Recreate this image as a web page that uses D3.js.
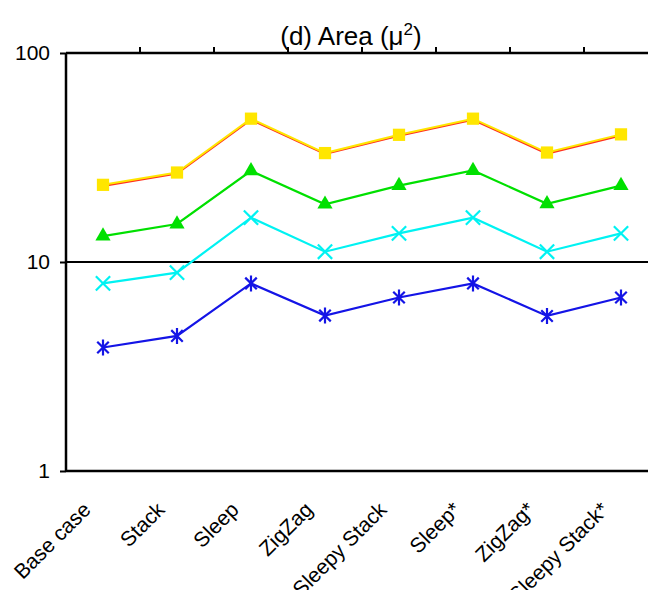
<!DOCTYPE html>
<html>
<head>
<meta charset="utf-8">
<script src="https://d3js.org/d3.v7.min.js"></script>
<style>
  body { margin: 0; background: white; }
  text { font-family: "Liberation Sans", Arial, sans-serif; fill: black; }
</style>
</head>
<body>
<svg id="chart" width="648" height="590"></svg>
<script>
// categories along the x axis
var configs = ["Base case", "Stack", "Sleep", "ZigZag", "Sleepy Stack", "Sleep*", "ZigZag*", "Sleepy Stack*"];

// area values (mu^2)
var redVals    = [23.1, 26.5, 47.9, 32.9, 40.2, 47.9, 33.0, 40.3];
var yellowVals = [23.4, 26.8, 48.5, 33.2, 40.6, 48.5, 33.4, 40.8];
var greenVals  = [13.3, 15.2, 27.3, 18.9, 23.2, 27.4, 19.0, 23.2];
var cyanVals   = [7.9, 8.9, 16.3, 11.2, 13.7, 16.3, 11.2, 13.7];
var blueVals   = [3.9, 4.43, 7.9, 5.54, 6.76, 7.9, 5.52, 6.76];

var yTicks = [1, 10, 100];

var svg = d3.select("#chart");
var mLeft = 66, mRight = 658, mTop = 53, mBottom = 471;

var x = d3.scalePoint().domain(configs).range([mLeft, mRight]).padding(0.5);
var y = d3.scaleLog().domain([1, 100]).range([mBottom, mTop]);

// title
svg.append("text")
  .attr("x", 351).attr("y", 45)
  .attr("text-anchor", "middle")
  .style("font-size", "26px")
  .html("(d) Area (&#956;<tspan dy='-10' font-size='17px'>2</tspan><tspan dy='10'>)</tspan>");

// frame: left, top, bottom and the line at 10
var frame = svg.append("g").attr("stroke", "black").attr("stroke-width", 2.5);
frame.append("line").attr("x1", mLeft).attr("x2", mLeft).attr("y1", mTop).attr("y2", mBottom);
frame.append("line").attr("x1", mLeft).attr("x2", mRight).attr("y1", y(100)).attr("y2", y(100));
frame.append("line").attr("x1", mLeft).attr("x2", mRight).attr("y1", y(1)).attr("y2", y(1));
frame.append("line").attr("x1", mLeft).attr("x2", mRight).attr("y1", y(10)).attr("y2", y(10))
  .attr("stroke-width", 2);

// tick marks on the top between categories
var step = x.step();
configs.slice(1).forEach(function(c) {
  var tx = x(c) - step / 2;
  frame.append("line").attr("x1", tx).attr("x2", tx).attr("y1", mTop - 6).attr("y2", mTop)
    .attr("stroke-width", 2);
});

// y axis
var yAxis = d3.axisLeft(y).tickValues(yTicks).tickFormat(d3.format("d")).tickSize(6).tickPadding(10);
var ga = svg.append("g").attr("transform", "translate(" + mLeft + ",0)").call(yAxis);
ga.select(".domain").remove();
ga.selectAll("line").attr("stroke-width", 2);
ga.selectAll("text").style("font-size", "21px").attr("font-family", "Liberation Sans, Arial, sans-serif").attr("fill", "black");

// x labels
configs.forEach(function(c) {
  var px = x(c) - 11, py = 511;
  svg.append("text")
    .attr("transform", "translate(" + px + "," + py + ") rotate(-45)")
    .attr("text-anchor", "end")
    .style("font-size", "21px")
    .text(c);
});

var line = d3.line()
  .x(function(d, i) { return x(configs[i]); })
  .y(function(d) { return y(d); });

function starPath(r) {
  var d = r * 0.72;
  return "M0," + (-r) + "L0," + r + "M" + (-d) + "," + (-d) + "L" + d + "," + d +
         "M" + (-d) + "," + d + "L" + d + "," + (-d);
}

function drawSeries(vals, color, width, marker) {
  var g = svg.append("g");
  g.append("path").datum(vals).attr("d", line)
    .attr("fill", "none").attr("stroke", color).attr("stroke-width", width);
  var pts = g.selectAll("path.m").data(vals).enter().append("path")
    .attr("class", "m")
    .attr("transform", function(d, i) { return "translate(" + x(configs[i]) + "," + y(d) + ")"; });
  if (marker === "star") {
    pts.attr("d", starPath(8)).attr("fill", "none").attr("stroke", color).attr("stroke-width", 2.2);
  } else if (marker === "times") {
    pts.attr("d", d3.symbol(d3.symbolTimes, 135)).attr("fill", "none").attr("stroke", color).attr("stroke-width", 2.2);
  } else if (marker === "plus") {
    pts.attr("d", d3.symbol(d3.symbolPlus, 40)).attr("fill", color);
  } else if (marker === "triangle") {
    pts.attr("d", d3.symbol(d3.symbolTriangle, 100)).attr("fill", color);
  } else if (marker === "square") {
    pts.attr("d", d3.symbol(d3.symbolSquare, 150)).attr("fill", color);
  }
}

drawSeries(blueVals, "#1414e6", 2.2, "star");
drawSeries(cyanVals, "#00f2f2", 2.2, "times");
drawSeries(greenVals, "#00e000", 2.2, "triangle");
drawSeries(redVals, "#ff3020", 2, "plus");
drawSeries(yellowVals, "#ffe600", 2, "square");
</script>
</body>
</html>
